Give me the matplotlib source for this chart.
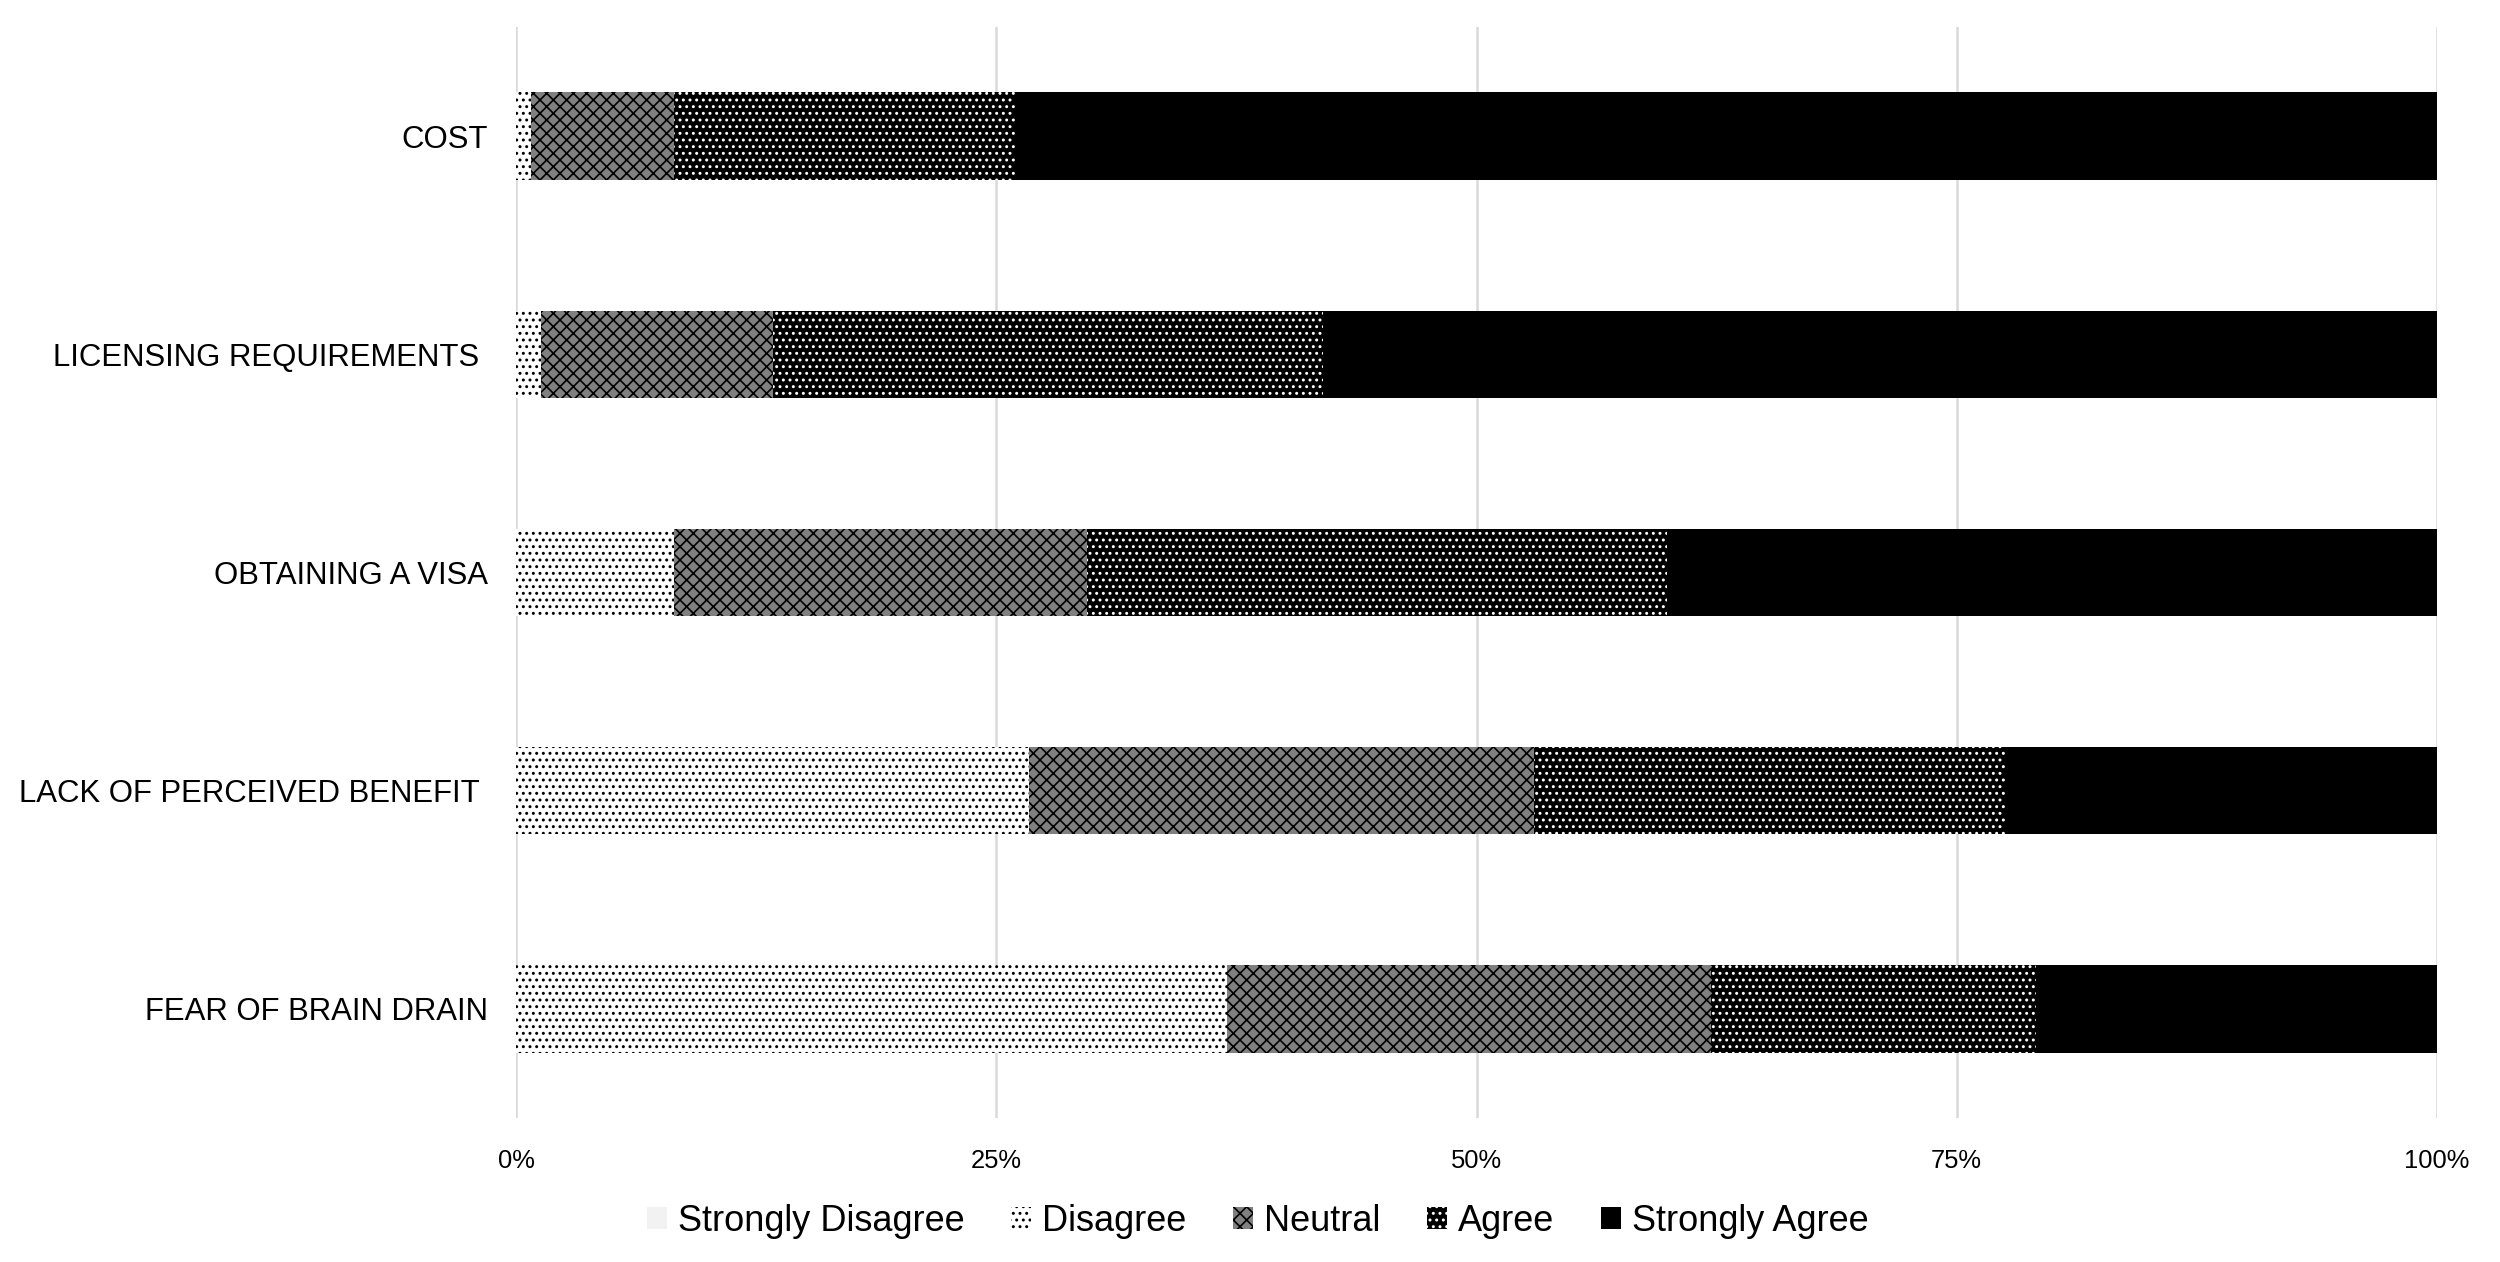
import matplotlib
matplotlib.use("Agg")
import matplotlib.pyplot as plt
from matplotlib.patches import Patch

# survey answers, percent of respondents (top row first)
barriers = ["COST", "LICENSING REQUIREMENTS ", "OBTAINING A VISA",
            "LACK OF PERCEIVED BENEFIT ", "FEAR OF BRAIN DRAIN"]
levels = ["Strongly Disagree", "Disagree", "Neutral", "Agree", "Strongly Agree"]
strongly_disagree = [0.0, 0.0, 0.0, 0.0, 0.0]
disagree = [0.8, 1.3, 8.2, 26.7, 37.0]
neutral = [7.4, 12.1, 21.5, 26.3, 25.2]
agree = [17.8, 28.6, 30.2, 24.5, 16.9]
strongly_agree = [74.0, 58.0, 40.1, 22.5, 20.9]
xticks = [0, 25, 50, 75, 100]

plt.rcParams["font.family"] = ["Liberation Sans", "DejaVu Sans"]
plt.rcParams["hatch.linewidth"] = 0.6

# black/white fill patterns like the original office chart
styles = [
    dict(facecolor="#f2f2f2", edgecolor="#f2f2f2", hatch=None),
    dict(facecolor="white", edgecolor="black", hatch="....."),
    dict(facecolor="#808080", edgecolor="black", hatch="xxxxx"),
    dict(facecolor="black", edgecolor="white", hatch="....."),
    dict(facecolor="black", edgecolor="black", hatch=None),
]

fig = plt.figure(figsize=(12.5, 6.31), dpi=200)
ax = fig.add_axes([0.2064, 0.1141, 0.7684, 0.8645])

series = [strongly_disagree, disagree, neutral, agree, strongly_agree]
ypos = list(range(len(barriers)))
left = [0.0] * len(barriers)
for vals, st in zip(series, styles):
    ax.barh(ypos, vals, left=left, height=0.4, linewidth=0, zorder=2, **st)
    left = [l + v for l, v in zip(left, vals)]

ax.set_xlim(0, 100)
ax.set_ylim(len(barriers) - 0.5, -0.5)
ax.set_yticks(ypos)
ax.set_yticklabels(barriers, fontsize=11.2)
ax.set_xticks(xticks)
ax.set_xticklabels([f"{t}%" for t in xticks], fontsize=9.2)
ax.tick_params(axis="both", length=0)
ax.tick_params(axis="y", pad=10)
ax.tick_params(axis="x", pad=11)
ax.grid(axis="x", color="#d9d9d9", linewidth=0.9, zorder=0)
for s in ax.spines.values():
    s.set_visible(False)

handles = [Patch(linewidth=0, **st) for st in styles]
fig.legend(handles, levels, loc="center", bbox_to_anchor=(0.503, 0.032),
           ncol=5, frameon=False, fontsize=13, handlelength=0.55,
           handleheight=0.55, handletextpad=0.3, columnspacing=1.3)

fig.savefig("out.png", dpi=200)
plt.close(fig)
